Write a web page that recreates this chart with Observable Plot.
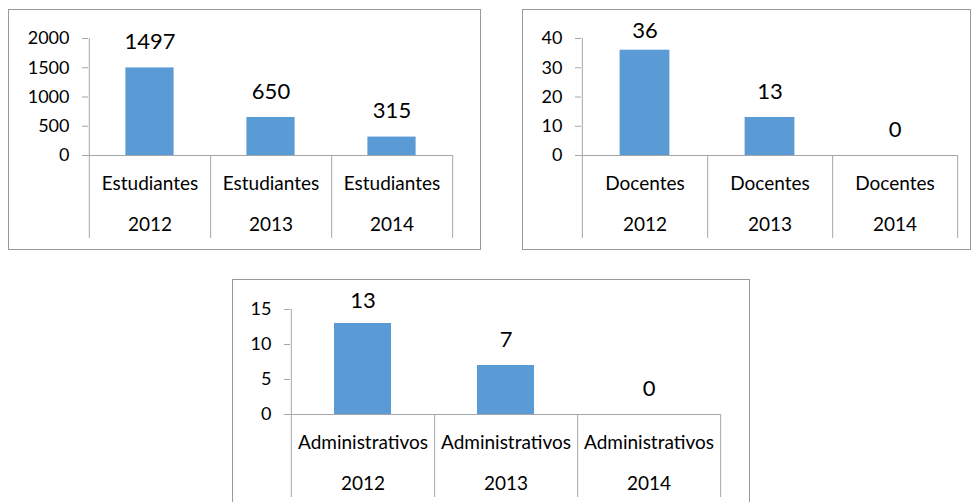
<!DOCTYPE html>
<html>
<head>
<meta charset="utf-8">
<script src="https://cdn.jsdelivr.net/npm/d3@7"></script>
<script src="https://cdn.jsdelivr.net/npm/@observablehq/plot@0.6"></script>
<style>
  html, body { margin: 0; padding: 0; background: #ffffff; }
  #page { position: relative; width: 972px; height: 502px; overflow: hidden; background: #fff; }
  .box { position: absolute; border: 1px solid #9a9a9a; box-sizing: content-box; background: #fff; }
  .box svg { display: block; }
</style>
</head>
<body>
<div id="page"></div>
<script>
// ---- data ----
const years = ["2012", "2013", "2014"];
const estudiantes = [1497, 650, 315];
const docentes = [36, 13, 0];
const administrativos = [13, 7, 0];
const estudiantesTicks = [0, 500, 1000, 1500, 2000];
const docentesTicks = [0, 10, 20, 30, 40];
const administrativosTicks = [0, 5, 10, 15];

const charts = [
  {category: "Estudiantes", values: estudiantes, ticks: estudiantesTicks,
   left: 8, top: 9, width: 471, height: 239, mt: 28, mb: 94, ml: 79, mr: 28},
  {category: "Docentes", values: docentes, ticks: docentesTicks,
   left: 522, top: 9, width: 447, height: 239, mt: 28, mb: 94, ml: 58, mr: 13},
  {category: "Administrativos", values: administrativos, ticks: administrativosTicks,
   left: 232, top: 279, width: 516, height: 239, mt: 29, mb: 105, ml: 57, mr: 29}
];

const FONT = "Lato, 'Open Sans', sans-serif";
const AXIS = "#a6a6a6";
const BAR = "#5b9bd5";

function makeChart(cfg) {
  const data = years.map((y, i) => ({year: y, value: cfg.values[i], cat: cfg.category}));
  const ymax = d3.max(cfg.ticks);
  const plotH = cfg.height - cfg.mt - cfg.mb;
  const bw = (cfg.width - cfg.ml - cfg.mr) / years.length;
  const per = ymax / plotH;           // data units per pixel
  const below = 83 * per;             // separator extent below the axis
  const labelCap = ymax - (46 - cfg.mt) * per;
  return Plot.plot({
    width: cfg.width,
    height: cfg.height,
    marginTop: cfg.mt,
    marginBottom: cfg.mb,
    marginLeft: cfg.ml,
    marginRight: cfg.mr,
    x: {domain: years, padding: 0, axis: null},
    y: {domain: [0, ymax], axis: null},
    style: {fontFamily: FONT, background: "#fff", color: "#000", overflow: "visible"},
    marks: [
      Plot.barY(data, {x: "year", y: "value", fill: BAR, insetLeft: bw * 0.3, insetRight: bw * 0.3}),
      Plot.axisY({ticks: cfg.ticks, label: null, tickSize: 6, tickPadding: 13, fontSize: 18, stroke: AXIS, strokeOpacity: 1, fill: "#000", tickFormat: d => String(d)}),
      Plot.ruleY([0], {stroke: AXIS, insetLeft: -6}),
      Plot.ruleX([years[0]], {x: d => d, dx: -bw / 2, y1: -below, y2: ymax, stroke: AXIS}),
      Plot.ruleX(years, {x: d => d, dx: bw / 2, y1: -below, y2: 0, stroke: AXIS}),
      Plot.text(data, {x: "year", y: 0, dy: 28, text: "cat", fontSize: 19, fill: "#000"}),
      Plot.text(data, {x: "year", y: 0, dy: 69, text: "year", fontSize: 19, fill: "#000"}),
      Plot.text(data, {x: "year", y: d => Math.min(d.value, labelCap), dy: -26, text: d => String(d.value), fontSize: 22, fill: "#000"})
    ]
  });
}

const page = document.getElementById("page");
for (const cfg of charts) {
  const box = document.createElement("div");
  box.className = "box";
  box.style.left = cfg.left + "px";
  box.style.top = cfg.top + "px";
  box.style.width = cfg.width + "px";
  box.style.height = cfg.height + "px";
  box.appendChild(makeChart(cfg));
  page.appendChild(box);
}
</script>
</body>
</html>
